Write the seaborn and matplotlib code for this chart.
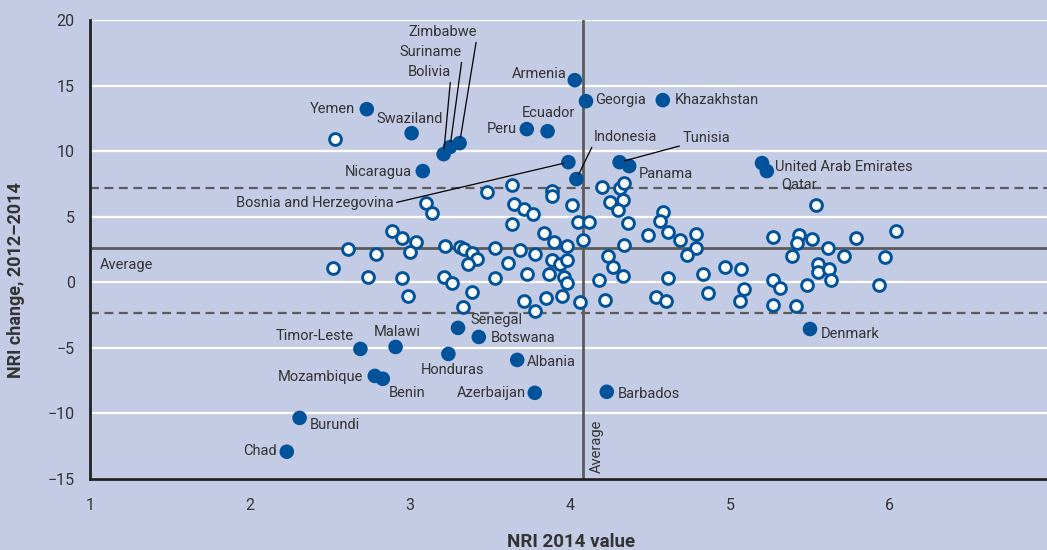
import matplotlib
matplotlib.use("Agg")
import matplotlib.pyplot as plt
import seaborn as sns
import pandas as pd

# open circles: all other economies
open_x = [2.53, 3.48, 3.64, 3.89, 3.89, 4.20, 4.31, 4.34, 3.10, 3.14,
          3.65, 3.71, 3.77, 4.01, 4.25, 4.33, 4.30, 5.54, 3.64, 4.05,
          4.12, 4.36, 4.58, 4.56, 2.89, 2.95, 3.04, 3.84, 4.49, 4.61,
          4.69, 4.79, 4.79, 4.73, 5.27, 5.43, 5.42, 5.51, 5.61, 5.79,
          6.04, 2.61, 2.79, 3.00, 3.22, 3.31, 3.34, 3.39, 3.42, 3.36,
          3.53, 3.69, 3.78, 3.61, 3.89, 3.90, 3.98, 4.08, 4.34, 4.24,
          4.27, 4.33, 3.94, 3.98, 2.52, 2.74, 2.95, 2.99, 3.21, 3.26,
          3.53, 3.73, 3.87, 3.96, 3.98, 4.18, 3.39, 3.33, 3.71, 3.78,
          3.85, 3.95, 4.06, 4.22, 4.54, 4.60, 4.61, 4.83, 4.86, 4.97,
          5.07, 5.09, 5.06, 5.27, 5.31, 5.27, 5.41, 5.39, 5.71, 5.97,
          5.55, 5.55, 5.62, 5.63, 5.48, 5.93]
open_y = [10.91, 6.88, 7.41, 6.95, 6.57, 7.26, 7.18, 7.56, 6.04, 5.28,
          5.96, 5.58, 5.20, 5.89, 6.12, 6.27, 5.51, 5.89, 4.44, 4.59,
          4.59, 4.52, 5.35, 4.67, 3.91, 3.37, 3.07, 3.75, 3.60, 3.83,
          3.22, 3.68, 2.61, 2.08, 3.45, 3.60, 2.99, 3.30, 2.61, 3.37,
          3.91, 2.54, 2.16, 2.31, 2.76, 2.69, 2.54, 2.23, 1.77, 1.39,
          2.61, 2.46, 2.16, 1.47, 1.70, 3.07, 2.76, 3.22, 2.84, 2.00,
          1.17, 0.48, 1.39, 1.70, 1.09, 0.40, 0.33, -1.04, 0.40, -0.05,
          0.33, 0.63, 0.63, 0.40, -0.05, 0.18, -0.74, -1.88, -1.42, -2.19,
          -1.20, -1.04, -1.50, -1.35, -1.12, -1.42, 0.33, 0.63, -0.81, 1.17,
          1.01, -0.51, -1.42, 0.18, -0.43, -1.73, -1.81, 2.00, 2.00, 1.93,
          1.39, 0.78, 1.01, 0.18, -0.21, -0.21]

# filled circles: named economies
names = ["Armenia", "Georgia", "Khazakhstan", "Yemen", "Swaziland", "Peru",
         "Ecuador", "Zimbabwe", "Suriname", "Bolivia", "Nicaragua",
         "Bosnia and Herzegovina", "Indonesia", "Tunisia", "Panama",
         "United Arab Emirates", "Qatar", "Senegal", "Botswana", "Timor-Leste",
         "Malawi", "Honduras", "Albania", "Mozambique", "Benin", "Azerbaijan",
         "Barbados", "Burundi", "Chad", "Denmark"]
named_x = [4.03, 4.10, 4.58, 2.73, 3.01, 3.73, 3.86, 3.31, 3.25, 3.21, 3.08,
           3.99, 4.04, 4.31, 4.37, 5.20, 5.23, 3.30, 3.43, 2.69, 2.91, 3.24,
           3.67, 2.78, 2.83, 3.78, 4.23, 2.31, 2.23, 5.50]
named_y = [15.41, 13.81, 13.89, 13.20, 11.37, 11.68, 11.52, 10.61, 10.31, 9.77,
           8.48, 9.16, 7.87, 9.16, 8.86, 9.09, 8.48, -3.48, -4.17, -5.08,
           -4.93, -5.46, -5.92, -7.14, -7.36, -8.43, -8.35, -10.34, -12.92, -3.56]

avg_x = 4.08
avg_y = 2.60
band_hi = 7.16
band_lo = -2.36

# label placement (pixel offsets from the point, alignment)
label_pos = {
    "Armenia": (-8, 6, "right"), "Georgia": (9, 1, "left"),
    "Khazakhstan": (12, 0, "left"), "Yemen": (-12, 0, "right"),
    "Swaziland": (31, 14, "right"), "Peru": (-10, 0, "right"),
    "Ecuador": (1, 18, "center"), "Zimbabwe": (17, 111, "right"),
    "Suriname": (12, 95, "right"), "Bolivia": (7, 82, "right"),
    "Nicaragua": (-11, -1, "right"), "Bosnia and Herzegovina": (-175, -41, "right"),
    "Indonesia": (17, 42, "left"), "Tunisia": (63, 24, "left"),
    "Panama": (10, -8, "left"), "United Arab Emirates": (13, -4, "left"),
    "Qatar": (14, -13, "left"), "Senegal": (12, 8, "left"),
    "Botswana": (12, -1, "left"), "Timor-Leste": (-7, 13, "right"),
    "Malawi": (2, 15, "center"), "Honduras": (4, -16, "center"),
    "Albania": (10, -2, "left"), "Mozambique": (-12, -1, "right"),
    "Benin": (6, -14, "left"), "Azerbaijan": (-9, 0, "right"),
    "Barbados": (11, -2, "left"), "Burundi": (10, -7, "left"),
    "Chad": (-10, 1, "right"), "Denmark": (11, -5, "left"),
}
leaders = {"Zimbabwe": (1, 0), "Suriname": (1, 0), "Bolivia": (1, 0),
           "Bosnia and Herzegovina": (1, 0.5), "Indonesia": (0, 0), "Tunisia": (0, 0)}

bg = "#c4cbe4"
blue = "#00539b"
grey = "#5b5b5b"
txt = "#333333"

sns.set_theme(style="white", rc={"axes.facecolor": bg, "figure.facecolor": bg})
plt.rcParams["font.family"] = ["Roboto", "DejaVu Sans"]

fig = plt.figure(figsize=(10.47, 5.5), dpi=100)
ax = fig.add_axes([90 / 1047, 71 / 550, 960 / 1047, 459 / 550])

# gridlines and average lines
ax.set_yticks(range(-15, 21, 5))
ax.yaxis.grid(True, color="white", lw=1.6, zorder=0)
ax.set_axisbelow(True)
ax.axhline(avg_y, color=grey, lw=2, zorder=1)
ax.axhline(band_hi, color=grey, lw=1.6, ls=(0, (4, 2.5)), zorder=1)
ax.axhline(band_lo, color=grey, lw=1.6, ls=(0, (4, 2.5)), zorder=1)
ax.axvline(avg_x, color=grey, lw=2, zorder=1)

others = pd.DataFrame({"x": open_x, "y": open_y})
named = pd.DataFrame({"name": names, "x": named_x, "y": named_y})

sns.scatterplot(data=others, x="x", y="y", ax=ax, s=72, marker="o",
                facecolor="white", edgecolor=blue, linewidth=2.1, zorder=3)
sns.scatterplot(data=named, x="x", y="y", ax=ax, s=110, marker="o",
                color=blue, edgecolor="none", zorder=4)

for _, row in named.iterrows():
    dx, dy, ha = label_pos[row["name"]]
    kw = {}
    if row["name"] in leaders:
        kw["arrowprops"] = dict(arrowstyle="-", color="black", lw=0.9,
                                shrinkA=0, shrinkB=4, relpos=leaders[row["name"]])
    ax.annotate(row["name"], (row["x"], row["y"]), xytext=(dx, dy),
                textcoords="offset pixels", ha=ha, va="center",
                fontsize=10.5, color=txt, zorder=5, **kw)

ax.text(1.06, 1.32, "Average", fontsize=10.5, color=txt, ha="left", va="center")
ax.text(4.17, -12.54, "Average", fontsize=10.5, color=txt, ha="center",
        va="center", rotation=90)

ax.set_xlim(1, 7)
ax.set_ylim(-15, 20)
ax.set_xticks(range(1, 7))
ax.tick_params(axis="x", direction="in", length=9.5, width=1.5, color="black",
               pad=14, labelsize=11.5, labelcolor=txt)
ax.tick_params(axis="y", length=0, pad=11, labelsize=11.5, labelcolor=txt)
ax.set_yticklabels([str(v).replace("-", "\u2212") for v in range(-15, 21, 5)])

for side in ["top", "right"]:
    ax.spines[side].set_visible(False)
for side in ["left", "bottom"]:
    ax.spines[side].set_color("#222222")
    ax.spines[side].set_linewidth(2)

ax.set_xlabel("NRI 2014 value", fontsize=13.5, fontweight="bold", color=txt)
ax.set_ylabel("NRI change, 2012\u20132014", fontsize=13, fontweight="bold", color=txt)
ax.xaxis.set_label_coords(0.501, -0.118)
ax.yaxis.set_label_coords(-0.068, 0.434)

fig.savefig("out.png", dpi=100, facecolor=bg)
